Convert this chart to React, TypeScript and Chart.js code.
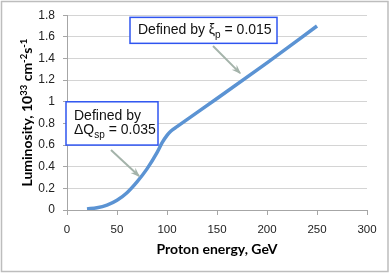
import React, { useEffect, useRef } from "react";
import { Chart, registerables } from "chart.js";

Chart.register(...registerables);

const energy = [20, 30, 40, 50, 60, 70, 80, 90, 95, 100, 104, 110, 150, 200, 250];
const luminosity = [0.01, 0.02, 0.045, 0.09, 0.16, 0.26, 0.38, 0.53, 0.62, 0.69, 0.73, 0.77, 1.03, 1.36, 1.7];
const xTicks = [0, 50, 100, 150, 200, 250, 300];
const yTicks = [0, 0.2, 0.4, 0.6, 0.8, 1, 1.2, 1.4, 1.6, 1.8];

const xTitle = "Proton energy, GeV";
const yTitleParts = [
  { t: "Luminosity, 10", sup: false },
  { t: "33", sup: true },
  { t: " cm", sup: false },
  { t: "-2", sup: true },
  { t: "s", sup: false },
  { t: "-1", sup: true },
];

// annotation boxes in data units
const notes = [
  {
    box: [63, 210, 1.78, 1.54],
    lines: [[
      { t: "Defined by ξ", sub: false },
      { t: "p", sub: true },
      { t: " = 0.015", sub: false },
    ]],
    arrow: [146, 1.515, 173, 1.265],
  },
  {
    box: [-1, 91, 1.0, 0.6],
    lines: [
      [{ t: "Defined by", sub: false }],
      [
        { t: "ΔQ", sub: false },
        { t: "sp", sub: true },
        { t: " = 0.035", sub: false },
      ],
    ],
    arrow: [44, 0.554, 72, 0.314],
  },
];

const TEXT_FONT = "14px 'Liberation Sans', Arial, sans-serif";
const SUB_FONT = "10px 'Liberation Sans', Arial, sans-serif";
const TITLE_FONT = "bold 14px Lato, 'Liberation Sans', sans-serif";
const TITLE_SUP = "bold 9.5px Lato, 'Liberation Sans', sans-serif";

const overlay = {
  id: "overlay",
  afterDraw(chart: any) {
    const ctx = chart.ctx as CanvasRenderingContext2D;
    const xs = chart.scales.x;
    const ys = chart.scales.y;
    const area = chart.chartArea;
    ctx.save();
    // outer border
    ctx.strokeStyle = "#bdbdbd";
    ctx.lineWidth = 1.5;
    ctx.strokeRect(1.5, 1.5, 386.5, 270);

    // x title
    ctx.fillStyle = "#000";
    ctx.font = TITLE_FONT;
    ctx.textAlign = "center";
    ctx.textBaseline = "alphabetic";
    ctx.fillText(xTitle, (area.left + area.right) / 2, 254);

    // y title rotated with superscripts
    ctx.save();
    ctx.translate(32, (area.top + area.bottom) / 2);
    ctx.rotate(-Math.PI / 2);
    let total = 0;
    for (const p of yTitleParts) {
      ctx.font = p.sup ? TITLE_SUP : TITLE_FONT;
      total += ctx.measureText(p.t).width;
    }
    let cx = -total / 2;
    ctx.textAlign = "left";
    for (const p of yTitleParts) {
      ctx.font = p.sup ? TITLE_SUP : TITLE_FONT;
      ctx.fillText(p.t, cx, p.sup ? -5 : 0);
      cx += ctx.measureText(p.t).width;
    }
    ctx.restore();

    for (const n of notes) {
      const [ax0, ay0, ax1, ay1] = n.arrow;
      const sx = xs.getPixelForValue(ax0);
      const sy = ys.getPixelForValue(ay0);
      const ex = xs.getPixelForValue(ax1);
      const ey = ys.getPixelForValue(ay1);
      ctx.strokeStyle = "#a4b3aa";
      ctx.fillStyle = "#a4b3aa";
      ctx.lineWidth = 2;
      ctx.beginPath();
      ctx.moveTo(sx, sy);
      ctx.lineTo(ex, ey);
      ctx.stroke();
      const ang = Math.atan2(ey - sy, ex - sx);
      const L = 9;
      ctx.beginPath();
      ctx.moveTo(ex + 1, ey + 1);
      ctx.lineTo(ex - L * Math.cos(ang - 0.4), ey - L * Math.sin(ang - 0.4));
      ctx.lineTo(ex - 5 * Math.cos(ang), ey - 5 * Math.sin(ang));
      ctx.lineTo(ex - L * Math.cos(ang + 0.4), ey - L * Math.sin(ang + 0.4));
      ctx.closePath();
      ctx.fill();

      const [bx0, bx1, by0, by1] = n.box;
      const l = xs.getPixelForValue(bx0);
      const r = xs.getPixelForValue(bx1);
      const t = ys.getPixelForValue(by0);
      const b = ys.getPixelForValue(by1);
      ctx.fillStyle = "#fff";
      ctx.fillRect(l, t, r - l, b - t);
      ctx.strokeStyle = "#2f55f0";
      ctx.lineWidth = 1.5;
      ctx.strokeRect(l, t, r - l, b - t);

      ctx.fillStyle = "#111";
      ctx.textAlign = "left";
      const lh = 14;
      const h = n.lines.length * lh;
      let baseY = (t + b) / 2 - h / 2 + 11;
      for (const line of n.lines) {
        let px = l + 8;
        for (const seg of line) {
          ctx.font = seg.sub ? SUB_FONT : TEXT_FONT;
          ctx.fillText(seg.t, px, baseY + (seg.sub ? 4 : 0));
          px += ctx.measureText(seg.t).width;
        }
        baseY += lh;
      }
    }
    ctx.restore();
  },
};

export default function App() {
  const ref = useRef<HTMLCanvasElement>(null);
  useEffect(() => {
    document.body.style.margin = "0";
    const canvas = ref.current!;
    const chart = new Chart(canvas, {
      type: "line",
      data: {
        datasets: [
          {
            data: energy.map((e, i) => ({ x: e, y: luminosity[i] })),
            borderColor: "#5b93d3",
            borderWidth: 3.5,
            pointRadius: 0,
            cubicInterpolationMode: "monotone",
            fill: false,
          },
        ],
      },
      options: {
        animation: false,
        responsive: false,
        events: [],
        layout: { padding: { left: 0, top: 15, right: 23, bottom: 0 } },
        plugins: { legend: { display: false }, tooltip: { enabled: false } },
        scales: {
          x: {
            type: "linear",
            min: 0,
            max: 300,
            afterBuildTicks: (s: any) => {
              s.ticks = xTicks.map((v) => ({ value: v }));
            },
            afterFit: (s: any) => {
              s.height = 63;
            },
            grid: {
              drawOnChartArea: false,
              drawTicks: true,
              tickLength: 5,
              color: "#a6a6a6",
            },
            border: { color: "#a6a6a6", width: 1 },
            ticks: {
              color: "#222",
              padding: 8,
              maxRotation: 0,
              font: { family: "'Liberation Sans', Arial, sans-serif", size: 11.5 },
            },
          },
          y: {
            type: "linear",
            min: 0,
            max: 1.8,
            afterBuildTicks: (s: any) => {
              s.ticks = yTicks.map((v) => ({ value: v }));
            },
            afterFit: (s: any) => {
              s.width = 67;
            },
            grid: {
              color: "#d4d4d4",
              tickColor: "#a6a6a6",
              drawTicks: true,
              tickLength: 4,
            },
            border: { color: "#a6a6a6", width: 1 },
            ticks: {
              color: "#222",
              padding: 8,
              callback: (v: any) => String(Math.round(Number(v) * 10) / 10),
              font: { family: "'Liberation Sans', Arial, sans-serif", size: 12 },
            },
          },
        },
      },
      plugins: [overlay],
    } as any);
    return () => chart.destroy();
  }, []);
  return (
    <div style={{ width: 390, height: 273, position: "relative", background: "#fff" }}>
      <canvas ref={ref} width={390} height={273} style={{ display: "block" }} />
    </div>
  );
}
